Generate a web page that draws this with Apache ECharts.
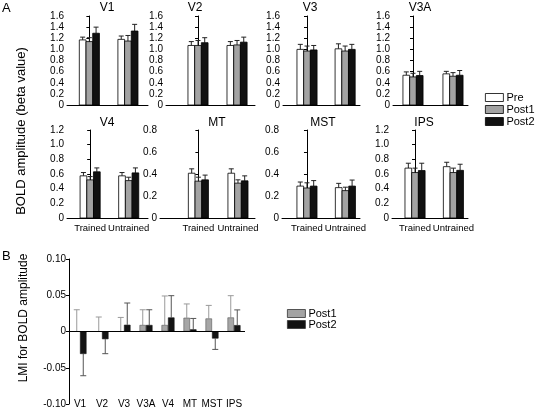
<!DOCTYPE html>
<html>
<head>
<meta charset="utf-8">
<script src="https://cdn.jsdelivr.net/npm/echarts@6/dist/echarts.min.js"></script>
<style>
html,body{margin:0;padding:0;background:#fff;}
#chart{width:535px;height:410px;}
</style>
</head>
<body>
<div id="chart"></div>
<script>
// ---------------- DATA ----------------
const regions = ['V1','V2','V3','V3A','V4','MT','MST','IPS'];
const groups = ['Trained','Untrained'];
const conditions = ['Pre','Post1','Post2'];
// y-axis maximum (tick range) of each panel in A
const yMaxes = [1.6,1.6,1.6,1.6,1.2,0.8,0.8,1.2];
// Panel A means [Trained, Untrained] and error (upper whisker length)
const preMean   = [[1.17,1.18],[1.07,1.07],[1.00,1.01],[0.535,0.56],[0.575,0.575],[0.407,0.407],[0.29,0.276],[0.68,0.70]];
const preErr    = [[0.05,0.06],[0.07,0.07],[0.09,0.09],[0.06,0.045],[0.045,0.045],[0.04,0.04],[0.037,0.039],[0.067,0.06]];
const post1Mean = [[1.14,1.15],[1.07,1.08],[0.97,0.97],[0.505,0.517],[0.52,0.51],[0.335,0.317],[0.273,0.249],[0.62,0.62]];
const post1Err  = [[0.07,0.10],[0.09,0.08],[0.09,0.09],[0.065,0.065],[0.045,0.046],[0.036,0.03],[0.047,0.031],[0.06,0.06]];
const post2Mean = [[1.29,1.33],[1.12,1.13],[0.99,1.00],[0.53,0.535],[0.63,0.615],[0.347,0.338],[0.29,0.29],[0.647,0.65]];
const post2Err  = [[0.11,0.12],[0.09,0.09],[0.08,0.09],[0.075,0.085],[0.053,0.068],[0.043,0.045],[0.05,0.055],[0.10,0.083]];
// Panel B: LMI values and error magnitudes
const lmiPost1    = [0, 0, 0, 0.009, 0.009, 0.019, 0.018, 0.0194];
const lmiPost1Err = [0.03, 0.02, 0.0194, 0.021, 0.04, 0.019, 0.018, 0.03];
const lmiPost2    = [-0.031, -0.0106, 0.0093, 0.009, 0.0194, 0.003, -0.0097, 0.0088];
const lmiPost2Err = [0.03, 0.02, 0.03, 0.021, 0.03, 0.015, 0.015, 0.021];
const lmiTicks = [-0.1, 0.1, 0.05];

// ---------------- LAYOUT / STYLE ----------------
const FONT = "'Liberation Sans', Arial, sans-serif";
const TICK_FS = 10;
const panelBoxes = [
  {l:67, r:148, t:16, h:89, xmin:-0.58, xmax:1.52, tx:107},
  {l:166,r:255, t:16, h:89, xmin:-0.82, xmax:1.46, tx:195},
  {l:283,r:360, t:16, h:89, xmin:-0.63, xmax:1.39, tx:310},
  {l:393,r:468, t:16, h:89, xmin:-0.50, xmax:1.375, tx:420},
  {l:67, r:148, t:130,h:88, xmin:-0.60, xmax:1.50, tx:107},
  {l:160,r:255, t:130,h:88, xmin:-0.97, xmax:1.43, tx:217},
  {l:282,r:360, t:130,h:88, xmin:-0.65, xmax:1.38, tx:323},
  {l:392,r:468, t:130,h:88, xmin:-0.60, xmax:1.38, tx:424}
];
const condColors = ['#ffffff','#a3a3a3','#111111'];
const BAR_W = 6.7, CAP = 2.5;

const chart = echarts.init(document.getElementById('chart'), null, {renderer:'canvas'});

const grids = [], xAxes = [], yAxes = [], series = [], graphics = [];
const meanSets = [preMean, post1Mean, post2Mean];
const errSets = [preErr, post1Err, post2Err];

function barRenderer(k, color){
  return function(params, api){
    const x = api.value(0), y = api.value(1), e = api.value(2);
    const p = api.coord([x, y]);
    const b = api.coord([x, 0]);
    const t = api.coord([x, y + e]);
    const cx = p[0] + (k - 1) * BAR_W;
    return {type:'group', children:[
      {type:'line', shape:{x1:cx, y1:p[1], x2:cx, y2:t[1]}, style:{stroke:'#222', lineWidth:1}},
      {type:'line', shape:{x1:cx-CAP, y1:t[1], x2:cx+CAP, y2:t[1]}, style:{stroke:'#222', lineWidth:1}},
      {type:'rect', shape:{x:cx-BAR_W/2, y:p[1], width:BAR_W, height:b[1]-p[1]}, style:{fill:color, stroke:'#000', lineWidth:0.8}}
    ]};
  };
}

regions.forEach(function(name, p){
  const box = panelBoxes[p];
  const bottomRow = p >= 4;
  grids.push({left:box.l, top:box.t, width:box.r-box.l, height:box.h, outerBoundsMode:'none', containLabel:false});
  xAxes.push({
    type:'value', gridIndex:p, min:box.xmin, max:box.xmax,
    axisLine:{show:true, onZero:false, lineStyle:{color:'#000', width:1}},
    axisTick:{show:false}, splitLine:{show:false},
    axisLabel:{show:bottomRow, customValues:[0,1], showMinLabel:true, showMaxLabel:true, hideOverlap:false,
      margin:5, color:'#000', fontSize:9.5, fontFamily:FONT,
      formatter:function(v){ return groups[Math.round(v)]; }}
  });
  yAxes.push({
    type:'value', gridIndex:p, min:0, max:yMaxes[p], interval:0.2,
    axisLine:{show:true, lineStyle:{color:'#000', width:1}},
    axisTick:{show:true, length:3, lineStyle:{color:'#000'}},
    splitLine:{show:false},
    axisLabel:{margin:3, color:'#000', fontSize:TICK_FS, fontFamily:FONT, showMinLabel:true, showMaxLabel:true,
      formatter:function(v){ return Math.abs(v) < 1e-9 ? '0' : v.toFixed(1); }}
  });
  conditions.forEach(function(cond, k){
    series.push({
      type:'custom', name:cond, xAxisIndex:p, yAxisIndex:p,
      itemStyle:{color:condColors[k], borderColor:'#000', borderWidth:0.8},
      renderItem: barRenderer(k, condColors[k]),
      encode:{x:0, y:1},
      data: groups.map(function(g, gi){ return [gi, meanSets[k][p][gi], errSets[k][p][gi]]; })
    });
  });
  graphics.push({type:'text', x:box.tx, y: bottomRow ? 123 : 8,
    style:{text:name, fill:'#000', font:'12px ' + FONT, textAlign:'center', textVerticalAlign:'middle'}});
});

// ---------------- Panel B ----------------
const BI = 8;
grids.push({left:69, top:259, width:176, height:145, outerBoundsMode:'none', containLabel:false});
xAxes.push({
  type:'category', gridIndex:BI, data:regions,
  axisLine:{show:false, onZero:false}, axisTick:{show:false}, splitLine:{show:false},
  axisLabel:{interval:0, margin:-5, color:'#000', fontSize:TICK_FS, fontFamily:FONT, showMinLabel:true, showMaxLabel:true}
});
yAxes.push({
  type:'value', gridIndex:BI, min:lmiTicks[0], max:lmiTicks[1], interval:lmiTicks[2],
  axisLine:{show:true, onZero:false, lineStyle:{color:'#000', width:1}},
  axisTick:{show:true, length:3, lineStyle:{color:'#000'}},
  splitLine:{show:false},
  axisLabel:{margin:3, color:'#000', fontSize:TICK_FS, fontFamily:FONT, showMinLabel:true, showMaxLabel:true,
    formatter:function(v){ return Math.abs(v) < 1e-9 ? '0' : v.toFixed(2); }}
});
const B_BW = 6.5;
series.push({
  type:'bar', name:'Post1', xAxisIndex:BI, yAxisIndex:BI, data:lmiPost1,
  barWidth:B_BW, barGap:'0%',
  itemStyle:{color:'#a6a6a6', borderColor:'#555', borderWidth:0.6},
  markLine:{silent:true, symbol:'none', label:{show:false},
    lineStyle:{color:'#000', type:'solid', width:1}, data:[{yAxis:0}]}
});
series.push({
  type:'bar', name:'Post2', xAxisIndex:BI, yAxisIndex:BI, data:lmiPost2,
  barWidth:B_BW, barGap:'0%',
  itemStyle:{color:'#141414', borderColor:'#141414', borderWidth:0.6}
});
function whiskerRenderer(k, color){
  return function(params, api){
    const i = api.value(0), v = api.value(1), e = api.value(2);
    const sign = v < 0 ? -1 : 1;
    const c = api.coord([i, v]);
    const t = api.coord([i, v + sign * e]);
    const cx = c[0] + (k === 0 ? -B_BW/2 : B_BW/2);
    return {type:'group', children:[
      {type:'line', shape:{x1:cx, y1:c[1], x2:cx, y2:t[1]}, style:{stroke:color, lineWidth:1}},
      {type:'line', shape:{x1:cx-3, y1:t[1], x2:cx+3, y2:t[1]}, style:{stroke:color, lineWidth:1}}
    ]};
  };
}
series.push({type:'custom', name:'errPost1', xAxisIndex:BI, yAxisIndex:BI, z:1,
  renderItem:whiskerRenderer(0, '#9a9a9a'), encode:{x:0, y:1},
  data: regions.map(function(r, i){ return [i, lmiPost1[i], lmiPost1Err[i]]; })});
series.push({type:'custom', name:'errPost2', xAxisIndex:BI, yAxisIndex:BI, z:1,
  renderItem:whiskerRenderer(1, '#555555'), encode:{x:0, y:1},
  data: regions.map(function(r, i){ return [i, lmiPost2[i], lmiPost2Err[i]]; })});

// ---------------- free text ----------------
graphics.push({type:'text', x:2, y:8, style:{text:'A', fill:'#000', font:'13px ' + FONT, textAlign:'left', textVerticalAlign:'middle'}});
graphics.push({type:'text', x:2, y:256, style:{text:'B', fill:'#000', font:'13px ' + FONT, textAlign:'left', textVerticalAlign:'middle'}});
graphics.push({type:'text', x:21, y:131, rotation:Math.PI/2,
  style:{text:'BOLD amplitude (beta value)', fill:'#000', font:'13px ' + FONT, textAlign:'center', textVerticalAlign:'middle'}});
graphics.push({type:'text', x:24, y:318, rotation:Math.PI/2,
  style:{text:'LMI for BOLD amplitude', fill:'#000', font:'12px ' + FONT, textAlign:'center', textVerticalAlign:'middle'}});

const option = {
  backgroundColor:'#fff',
  animation:false,
  grid:grids, xAxis:xAxes, yAxis:yAxes, series:series,
  legend:[
    {data:conditions, orient:'vertical', left:485, top:92, icon:'rect', itemWidth:18, itemHeight:8, itemGap:1,
     selectedMode:false, itemStyle:{borderColor:'#000', borderWidth:0.8},
     textStyle:{color:'#000', fontSize:11, fontFamily:FONT, padding:[0,0,0,-2]}, padding:0},
    {data:['Post1','Post2'], orient:'vertical', left:287, top:308, icon:'rect', itemWidth:18, itemHeight:8, itemGap:0,
     selectedMode:false, itemStyle:{borderColor:'#333', borderWidth:0.8},
     textStyle:{color:'#000', fontSize:11, fontFamily:FONT, padding:[0,0,0,-2]}, padding:0}
  ],
  graphic:graphics
};
chart.setOption(option);
</script>
</body>
</html>
